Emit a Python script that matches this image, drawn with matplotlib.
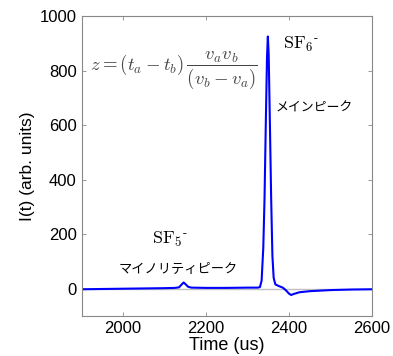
import numpy as np
import matplotlib
matplotlib.use("Agg")
import matplotlib.pyplot as plt

plt.rcParams['font.family'] = ['Liberation Sans', 'Noto Sans CJK JP']
plt.rcParams['mathtext.fontset'] = 'cm'

# time of flight (us) and signal (arb. units)
time_us = [1900, 1950, 2000, 2050, 2100, 2125, 2135, 2141, 2146, 2151, 2157, 2165,
           2200, 2250, 2300, 2325, 2330, 2334, 2338, 2341, 2344, 2347, 2349,
           2351, 2354, 2357, 2360, 2363, 2367, 2375, 2385, 2392, 2400, 2405,
           2412, 2425, 2450, 2500, 2550, 2600]
signal = [-2, -1, 0, 1, 2, 3, 5, 15, 23, 16, 7, 4,
          3, 3, 4, 4, 6, 30, 150, 330, 600, 850, 925,
          860, 600, 330, 120, 40, 16, 10, 4, -5, -18, -23,
          -19, -13, -9, -5, -3, -2]

xticks = [2000, 2200, 2400, 2600]
yticks = [0, 200, 400, 600, 800, 1000]

fig = plt.figure(figsize=(3.93, 3.56), dpi=100)
ax = fig.add_axes([0.2074, 0.1124, 0.7392, 0.8426])

ax.axhline(0, color='#c0c0c0', lw=1.0, zorder=1)
ax.plot(time_us, signal, color='#0000ff', lw=1.5, zorder=2)

ax.set_xlim(1900, 2600)
ax.set_ylim(-100, 1000)
ax.set_xticks(xticks)
ax.set_yticks(yticks)
ax.tick_params(direction='in', top=True, right=True, length=3, labelsize=12,
               color='#888888', width=0.6)
for sp in ax.spines.values():
    sp.set_color('#888888')
    sp.set_linewidth(0.8)

ax.set_xlabel('Time (us)', fontsize=13, labelpad=1)
ax.set_ylabel('I(t) (arb. units)', fontsize=12.5, labelpad=3)

ax.text(1920, 800, r'$z=(t_a-t_b)\,\dfrac{v_a v_b}{(v_b-v_a)}$', fontsize=13.5,
        color='#444444', va='center', ha='left')
ax.text(2385, 895, r'$\mathrm{SF}_6{}^{\text{-}}$', fontsize=13, ha='left', va='center')
ax.text(2368, 663, 'メインピーク', fontsize=9.3, ha='left', va='center',
        family='Noto Sans CJK JP')
ax.text(2070, 182, r'$\mathrm{SF}_5{}^{\text{-}}$', fontsize=13, ha='left', va='center')
ax.text(2133, 72, 'マイノリティピーク', fontsize=9.5, ha='center', va='center',
        family='Noto Sans CJK JP')

fig.savefig('out.png', dpi=100)
